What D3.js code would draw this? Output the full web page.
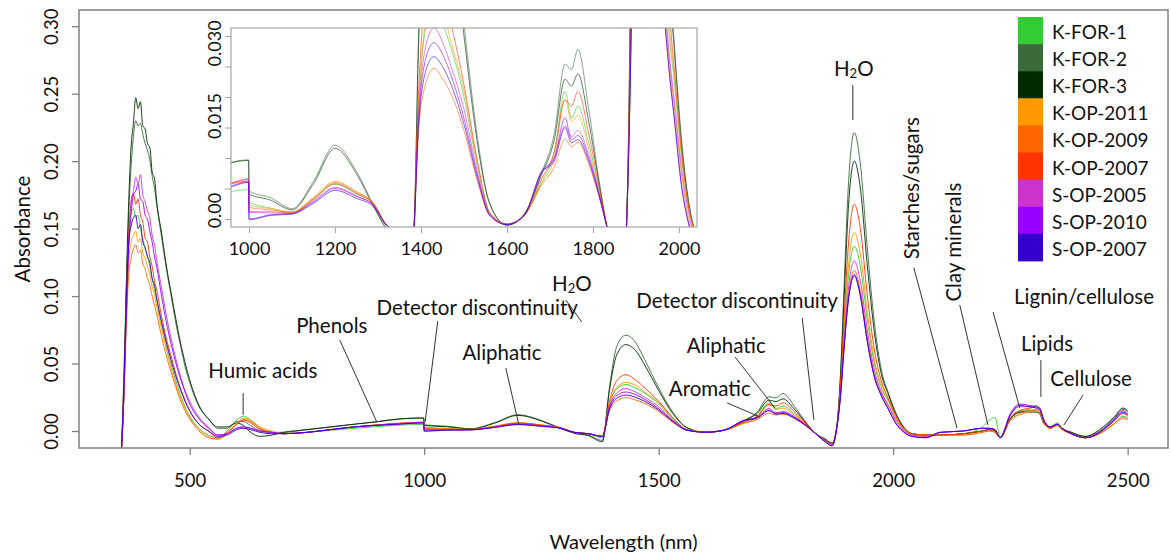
<!DOCTYPE html>
<html>
<head>
<meta charset="utf-8">
<script src="https://cdn.jsdelivr.net/npm/d3@7"></script>
<style>
  html, body { margin: 0; padding: 0; background: #fff; }
  svg { display: block; font-family: Lato, Carlito, "Open Sans", sans-serif; }
</style>
</head>
<body>
<svg id="chart" width="1171" height="554"></svg>
<script>
// Wavelength grid (nm) shared by every spectrum
const wavelengths = [
  350,355,360,365,370,375,380,385,390,395,400,405,410,415,420,425,430,440,450,460,470,480,490,500,520,540,
  560,580,600,615,630,650,675,700,
  750,800,850,900,950,999,
  1000,1050,1100,1150,1200,1250,1290,1320,1350,1380,
  1395,1410,1430,1450,1470,1500,1530,1560,1600,
  1640,1680,1710,1735,1750,1765,1790,1815,1835,
  1855,1870,1880,1888,1895,1905,1917,1930,1945,1960,1975,1990,2005,2020,2040,2070,
  2100,2150,2190,2205,2217,2228,2250,2270,2290,2305,2312,2322,2335,2350,2360,2380,2410,2440,2470,2490,2500
];

const sampleNames = ["K-FOR-1","K-FOR-2","K-FOR-3","K-OP-2011","K-OP-2009","K-OP-2007","S-OP-2005","S-OP-2010","S-OP-2007"];
const sampleColors = ["#33cc33","#3b6b3b","#002b00","#ff9900","#ff6600","#ff3300","#cc33cc","#9900ff","#3300cc"];

const kFor1 = [
  -0.03,-0.008,0.05,0.11,0.15,0.162,0.165,0.158,0.16,0.15,0.143,0.135,0.130,0.122,0.113,0.105,0.096,0.079,0.064,0.050,0.038,0.027,0.018,0.011,0.002,-0.003,
  -0.005,0.0,0.008,0.011,0.008,0.002,-0.001,-0.002,
  -0.001,0.0005,0.002,0.0033,0.0044,0.0048,
  0.0028,0.0018,0.0011,0.0033,0.0057,0.0041,0.0024,-0.001,-0.002,-0.005,
  0.019,0.031,0.0345,0.032,0.028,0.020,0.009,0.001,-0.0008,
  0.0006,0.006,0.011,0.0209,0.0165,0.0185,0.0125,0.0045,-0.002,
  -0.007,-0.01,0.003,0.031,0.070,0.116,0.137,0.122,0.082,0.05,0.032,0.022,0.011,0.003,-0.002,-0.003,
  -0.003,-0.002,0.003,0.008,0.010,-0.004,0.010,0.015,0.016,0.019,0.017,0.006,0.003,0.006,0.002,-0.002,-0.005,-0.002,0.005,0.011,0.010
];
const kFor2 = [
  -0.03,-0.012,0.03,0.10,0.16,0.195,0.218,0.23,0.226,0.228,0.22,0.213,0.208,0.201,0.189,0.180,0.167,0.144,0.121,0.101,0.081,0.064,0.048,0.036,0.018,0.009,
  0.002,0.002,0.007,0.007,0.004,0.0,-0.001,-0.001,
  0.001,0.003,0.005,0.007,0.0091,0.0097,
  0.0046,0.0035,0.0017,0.0062,0.0121,0.0078,0.0022,-0.0015,-0.003,-0.007,
  0.032,0.062,0.071,0.066,0.053,0.032,0.014,0.0025,-0.001,
  0.0008,0.0075,0.014,0.0254,0.0245,0.0278,0.018,0.006,-0.002,
  -0.006,-0.009,0.004,0.045,0.105,0.185,0.221,0.198,0.135,0.08,0.045,0.028,0.014,0.004,-0.002,-0.003,
  -0.003,-0.002,0.0,0.001,0.0,-0.005,0.009,0.014,0.015,0.015,0.014,0.006,0.003,0.005,0.002,-0.001,-0.004,0.0,0.009,0.016,0.014
];
const kFor3 = [
  -0.03,-0.012,0.03,0.11,0.17,0.21,0.228,0.247,0.239,0.244,0.226,0.224,0.213,0.210,0.192,0.187,0.169,0.147,0.123,0.103,0.084,0.066,0.051,0.038,0.019,0.009,
  0.003,0.003,0.006,0.004,-0.001,-0.004,-0.003,-0.001,
  0.001,0.003,0.005,0.0068,0.009,0.0096,
  0.0041,0.0031,0.0015,0.0058,0.0116,0.0074,0.002,-0.0017,-0.0035,-0.008,
  0.030,0.056,0.064,0.060,0.049,0.030,0.013,0.0025,-0.001,
  0.0008,0.0072,0.013,0.0229,0.0218,0.0238,0.016,0.0055,-0.002,
  -0.006,-0.009,0.004,0.042,0.095,0.168,0.200,0.180,0.122,0.073,0.042,0.027,0.013,0.004,-0.002,-0.003,
  -0.003,-0.002,0.0,0.001,0.0,-0.005,0.009,0.014,0.014,0.014,0.013,0.005,0.003,0.005,0.002,-0.001,-0.004,0.001,0.010,0.017,0.015
];
const kOp2011 = [
  -0.03,-0.01,0.035,0.09,0.125,0.14,0.145,0.148,0.14,0.143,0.132,0.128,0.122,0.116,0.107,0.101,0.092,0.076,0.061,0.047,0.035,0.025,0.017,0.010,0.001,-0.004,
  -0.006,-0.002,0.006,0.0095,0.008,0.003,0.0,-0.002,
  -0.001,0.001,0.003,0.0045,0.0058,0.006,
  0.0023,0.0017,0.0012,0.0036,0.0062,0.0045,0.0026,-0.001,-0.002,-0.004,
  0.020,0.032,0.036,0.034,0.029,0.021,0.0095,0.001,-0.0008,
  0.0006,0.0058,0.010,0.0196,0.0160,0.0170,0.0115,0.004,-0.002,
  -0.007,-0.01,0.003,0.033,0.075,0.124,0.147,0.131,0.088,0.053,0.034,0.023,0.011,0.003,-0.002,-0.003,
  -0.003,-0.003,-0.001,0.0,-0.001,-0.005,0.008,0.012,0.014,0.015,0.014,0.005,0.002,0.004,0.001,-0.002,-0.005,-0.002,0.005,0.009,0.008
];
const kOp2009 = [
  -0.03,-0.01,0.03,0.08,0.115,0.128,0.135,0.138,0.132,0.134,0.124,0.12,0.113,0.108,0.100,0.093,0.086,0.070,0.056,0.044,0.033,0.023,0.015,0.009,0.0,-0.005,
  -0.006,-0.002,0.005,0.0085,0.007,0.002,-0.001,-0.002,
  -0.001,0.001,0.003,0.0045,0.0057,0.0062,
  0.0019,0.0015,0.0011,0.0034,0.0060,0.0044,0.0025,-0.001,-0.002,-0.004,
  0.015,0.022,0.0247,0.023,0.0205,0.0145,0.0065,0.0006,-0.0009,
  0.0006,0.0055,0.0085,0.0131,0.0118,0.0126,0.009,0.0035,-0.002,
  -0.007,-0.01,0.003,0.028,0.062,0.101,0.119,0.104,0.069,0.042,0.028,0.018,0.008,0.001,-0.003,-0.004,
  -0.003,-0.003,-0.001,0.0,-0.001,-0.005,0.008,0.013,0.015,0.016,0.015,0.006,0.002,0.004,0.001,-0.002,-0.005,-0.002,0.005,0.010,0.009
];
const kOp2007 = [
  -0.03,-0.01,0.04,0.1,0.145,0.168,0.176,0.168,0.172,0.16,0.155,0.143,0.140,0.129,0.122,0.111,0.104,0.085,0.069,0.056,0.043,0.032,0.023,0.015,0.005,0.0,
  -0.005,-0.001,0.005,0.008,0.006,0.001,-0.001,-0.002,
  -0.001,0.001,0.003,0.0045,0.0057,0.0065,
  0.0012,0.0012,0.001,0.0032,0.0058,0.0042,0.0024,-0.001,-0.002,-0.004,
  0.022,0.037,0.0417,0.038,0.032,0.022,0.010,0.001,-0.0008,
  0.0006,0.0065,0.011,0.0195,0.0185,0.0209,0.014,0.005,-0.002,
  -0.007,-0.01,0.003,0.036,0.082,0.140,0.168,0.150,0.10,0.06,0.037,0.024,0.012,0.003,-0.002,-0.003,
  -0.003,-0.002,0.0,0.001,0.0,-0.005,0.010,0.015,0.017,0.018,0.017,0.007,0.002,0.005,0.002,-0.002,-0.005,-0.001,0.007,0.013,0.012
];
const sOp2005 = [
  -0.03,-0.01,0.03,0.09,0.14,0.17,0.178,0.188,0.183,0.19,0.175,0.17,0.163,0.158,0.145,0.138,0.126,0.106,0.086,0.069,0.054,0.041,0.030,0.022,0.010,0.003,
  -0.003,-0.002,0.002,0.003,0.002,0.0,-0.001,-0.002,
  -0.001,0.001,0.003,0.0045,0.0056,0.0066,
  0.0011,0.001,0.0009,0.003,0.0052,0.0038,0.0022,-0.001,-0.002,-0.004,
  0.018,0.028,0.0313,0.029,0.025,0.018,0.008,0.0008,-0.0008,
  0.0006,0.0075,0.010,0.0153,0.0135,0.0145,0.0105,0.004,-0.002,
  -0.007,-0.01,0.003,0.029,0.065,0.107,0.126,0.111,0.074,0.045,0.029,0.019,0.009,0.002,-0.003,-0.004,
  -0.001,0.0,0.002,0.002,0.001,-0.005,0.012,0.018,0.018,0.018,0.017,0.007,0.003,0.005,0.002,-0.002,-0.005,-0.001,0.007,0.013,0.011
];
const sOp2010 = [
  -0.03,-0.01,0.03,0.085,0.135,0.16,0.175,0.178,0.183,0.172,0.17,0.16,0.157,0.148,0.140,0.129,0.121,0.100,0.081,0.065,0.051,0.039,0.029,0.020,0.009,0.002,
  -0.003,-0.002,0.002,0.003,0.002,0.0,-0.001,-0.002,
  -0.001,0.001,0.003,0.0042,0.0052,0.0062,
  0.0,0.0007,0.0009,0.0028,0.0050,0.0037,0.0022,-0.001,-0.002,-0.004,
  0.017,0.026,0.0289,0.027,0.0235,0.0165,0.0075,0.0006,-0.0009,
  0.0006,0.0078,0.010,0.0166,0.0130,0.0137,0.010,0.0038,-0.002,
  -0.008,-0.011,0.003,0.027,0.060,0.099,0.116,0.101,0.066,0.040,0.026,0.016,0.006,0.0,-0.004,-0.005,
  -0.001,0.0,0.002,0.002,0.001,-0.005,0.013,0.020,0.019,0.018,0.017,0.008,0.003,0.005,0.002,-0.002,-0.005,-0.001,0.008,0.015,0.013
];
const sOp2007 = [
  -0.03,-0.01,0.04,0.1,0.14,0.152,0.158,0.16,0.15,0.153,0.14,0.136,0.129,0.125,0.113,0.108,0.098,0.081,0.066,0.053,0.041,0.031,0.022,0.015,0.005,0.0,
  -0.004,-0.003,0.001,0.002,0.001,-0.001,-0.002,-0.002,
  -0.001,0.001,0.003,0.0042,0.0051,0.006,
  -0.0001,0.0006,0.0008,0.0026,0.0047,0.0034,0.002,-0.001,-0.002,-0.004,
  0.016,0.024,0.0266,0.025,0.022,0.0155,0.007,0.0006,-0.0009,
  0.0006,0.0076,0.0095,0.0150,0.0125,0.0130,0.0095,0.0036,-0.002,
  -0.008,-0.011,0.003,0.027,0.060,0.098,0.115,0.100,0.066,0.040,0.026,0.016,0.006,0.0,-0.004,-0.005,
  -0.001,0.0,0.002,0.002,0.001,-0.005,0.012,0.019,0.018,0.017,0.016,0.007,0.003,0.005,0.002,-0.002,-0.005,-0.001,0.008,0.014,0.012
];

const mainXTicks = [500, 1000, 1500, 2000, 2500];
const mainYTicks = [0, 0.05, 0.10, 0.15, 0.20, 0.25, 0.30];
const insetXTicks = [1000, 1200, 1400, 1600, 1800, 2000];
const insetYTicks = [0, 0.005, 0.010, 0.015, 0.020, 0.025, 0.030];
const insetYLabels = {"0": "0.00", "0.015": "0.015", "0.03": "0.030"};

// Band annotations: label anchor and leader line, in (nm, absorbance)
const bandNotes = [
  {text: "Humic acids",            at: [656, 0.0452],  from: [614, 0.028],   to: [614, 0.012]},
  {text: "Phenols",                at: [803, 0.0786],  from: [820, 0.0674],  to: [899, 0.0067]},
  {text: "Detector discontinuity", at: [1113, 0.0919], from: [1029, 0.0815], to: [1002, 0.0067]},
  {text: "Aliphatic",              at: [1166, 0.0585], from: [1174, 0.0467], to: [1202, 0.0044]},
  {text: "H2O",                    at: [1315, 0.1100], from: [1302, 0.097],  to: [1336, 0.0808]},
  {text: "Detector discontinuity", at: [1667, 0.0971], from: [1806, 0.0837], to: [1831, 0.0082]},
  {text: "Aliphatic",              at: [1644, 0.0637], from: [1663, 0.0548], to: [1748, 0.017]},
  {text: "Aromatic",               at: [1609, 0.0319], from: [1646, 0.0208], to: [1716, 0.0104]},
  {text: "H2O",                    at: [1916, 0.269],  from: [1914, 0.2564], to: [1914, 0.2305]},
  {text: "Starches/sugars",        at: [2038, 0.180],  from: [2044, 0.121],  to: [2136, 0.0022], vertical: true},
  {text: "Clay minerals",          at: [2128, 0.140],  from: [2142, 0.0934], to: [2202, 0.0044], vertical: true},
  {text: "Lignin/cellulose",       at: [2407, 0.100],  from: [2213, 0.0882], to: [2270, 0.017]},
  {text: "Lipids",                 at: [2328, 0.0652], from: [2315, 0.0526], to: [2315, 0.0252]},
  {text: "Cellulose",              at: [2422, 0.0393], from: [2405, 0.0267], to: [2364, 0.0044]}
];

const spectra = [kFor1, kFor2, kFor3, kOp2011, kOp2009, kOp2007, sOp2005, sOp2010, sOp2007]
  .map((vals, i) => ({
    name: sampleNames[i],
    color: sampleColors[i],
    points: wavelengths.map((w, j) => ({w, a: vals[j]}))
  }));

const svg = d3.select("#chart");
const axisColor = "#808080";
const textColor = "#111";

// ---------- main panel ----------
const box = {left: 79, right: 1168, top: 10, bottom: 448};
const x = d3.scaleLinear().domain([264, 2586]).range([box.left, box.right]);
const y = d3.scaleLinear().domain([-0.0126, 0.312]).range([box.bottom, box.top]);

svg.append("clipPath").attr("id", "mainClip")
  .append("rect").attr("x", box.left).attr("y", box.top)
  .attr("width", box.right - box.left).attr("height", box.bottom - box.top);

const mainLine = d3.line().x(d => x(d.w)).y(d => y(d.a)).curve(d3.curveMonotoneX);

svg.append("g").attr("clip-path", "url(#mainClip)")
  .selectAll("path").data(spectra).join("path")
  .attr("d", d => mainLine(d.points))
  .attr("fill", "none")
  .attr("stroke", d => d.color)
  .attr("stroke-width", 1)
  .attr("stroke-opacity", 0.9);

svg.append("rect")
  .attr("x", box.left).attr("y", box.top)
  .attr("width", box.right - box.left).attr("height", box.bottom - box.top)
  .attr("fill", "none").attr("stroke", axisColor).attr("stroke-width", 1.5);

const xAxis = svg.append("g").attr("transform", `translate(0,${box.bottom})`)
  .call(d3.axisBottom(x).tickValues(mainXTicks).tickFormat(d3.format("d"))
    .tickSize(7).tickSizeOuter(0).tickPadding(19));
xAxis.select(".domain").remove();
xAxis.selectAll("line").attr("stroke", axisColor).attr("stroke-width", 1.3);
xAxis.selectAll("text").attr("font-size", 18.5).attr("fill", textColor)
  .attr("font-family", "Lato, Carlito, sans-serif");

const yAxis = svg.append("g").attr("transform", `translate(${box.left},0)`)
  .call(d3.axisLeft(y).tickValues(mainYTicks).tickFormat(d3.format(".2f"))
    .tickSize(7).tickSizeOuter(0));
yAxis.select(".domain").remove();
yAxis.selectAll("line").attr("stroke", axisColor).attr("stroke-width", 1.3);
yAxis.selectAll("text")
  .attr("x", null).attr("dy", null)
  .attr("transform", "translate(-28,0) rotate(-90)")
  .attr("text-anchor", "middle").attr("dominant-baseline", "central")
  .attr("font-size", 18.5).attr("fill", textColor)
  .attr("font-family", "Lato, Carlito, sans-serif");

svg.append("text")
  .attr("transform", `translate(22,${(box.top + box.bottom) / 2}) rotate(-90)`)
  .attr("text-anchor", "middle").attr("dominant-baseline", "central")
  .attr("font-size", 20.5).attr("fill", textColor)
  .text("Absorbance");

svg.append("text")
  .attr("x", (box.left + box.right) / 2).attr("y", 541)
  .attr("text-anchor", "middle").attr("dominant-baseline", "central")
  .attr("font-size", 20).attr("fill", textColor)
  .text("Wavelength (nm)");

// ---------- band annotations ----------
const notes = svg.append("g");
bandNotes.forEach(n => {
  notes.append("line")
    .attr("x1", x(n.from[0])).attr("y1", y(n.from[1]))
    .attr("x2", x(n.to[0])).attr("y2", y(n.to[1]))
    .attr("stroke", "#333").attr("stroke-width", 1);
  const t = notes.append("text")
    .attr("font-size", 20.5).attr("fill", textColor)
    .attr("text-anchor", "middle").attr("dominant-baseline", "central");
  if (n.vertical) {
    t.attr("transform", `translate(${x(n.at[0])},${y(n.at[1])}) rotate(-90)`);
  } else {
    t.attr("x", x(n.at[0])).attr("y", y(n.at[1]));
  }
  if (n.text === "H2O") {
    t.append("tspan").text("H");
    t.append("tspan").attr("font-size", 13).attr("dy", 5).text("2");
    t.append("tspan").attr("dy", -5).text("O");
  } else {
    t.text(n.text);
  }
});

// ---------- legend ----------
const legend = svg.append("g");
const rowH = 27.1, legTop = 17;
spectra.forEach((s, i) => {
  legend.append("rect")
    .attr("x", 1018).attr("y", legTop + i * rowH)
    .attr("width", 25).attr("height", rowH + 0.5)
    .attr("fill", s.color);
  legend.append("text")
    .attr("x", 1052).attr("y", legTop + i * rowH + rowH / 2 + 1)
    .attr("dominant-baseline", "central")
    .attr("font-size", 19).attr("fill", textColor)
    .text(s.name);
});

// ---------- inset: 1000-2000 nm at low absorbance ----------
const ibox = {left: 231, right: 697, top: 28, bottom: 227};
const xi = d3.scaleLinear().domain([958, 2042]).range([ibox.left, ibox.right]);
const yi = d3.scaleLinear().domain([-0.0013, 0.0313]).range([ibox.bottom, ibox.top]);

svg.append("rect")
  .attr("x", ibox.left).attr("y", ibox.top)
  .attr("width", ibox.right - ibox.left).attr("height", ibox.bottom - ibox.top)
  .attr("fill", "#fff");

svg.append("clipPath").attr("id", "insetClip")
  .append("rect").attr("x", ibox.left).attr("y", ibox.top)
  .attr("width", ibox.right - ibox.left).attr("height", ibox.bottom - ibox.top);

const insetLine = d3.line().x(d => xi(d.w)).y(d => yi(d.a)).curve(d3.curveMonotoneX);
svg.append("g").attr("clip-path", "url(#insetClip)")
  .selectAll("path").data(spectra).join("path")
  .attr("d", d => insetLine(d.points.filter(p => p.w >= 900 && p.w <= 2100)))
  .attr("fill", "none")
  .attr("stroke", d => d.color)
  .attr("stroke-width", 1)
  .attr("stroke-opacity", 0.6);

svg.append("rect")
  .attr("x", ibox.left).attr("y", ibox.top)
  .attr("width", ibox.right - ibox.left).attr("height", ibox.bottom - ibox.top)
  .attr("fill", "none").attr("stroke", "#a6a6a6").attr("stroke-width", 1.2);

const ixAxis = svg.append("g").attr("transform", `translate(0,${ibox.bottom})`)
  .call(d3.axisBottom(xi).tickValues(insetXTicks).tickFormat(d3.format("d"))
    .tickSize(6).tickSizeOuter(0).tickPadding(9));
ixAxis.select(".domain").remove();
ixAxis.selectAll("line").attr("stroke", "#a6a6a6");
ixAxis.selectAll("text").attr("font-size", 18).attr("fill", textColor)
  .attr("font-family", "Lato, Carlito, sans-serif");

// label nudges keep the rotated labels inside the inset's height
const insetNudge = {"0": -9, "0.015": -12, "0.03": 7};
const iyAxis = svg.append("g").attr("transform", `translate(${ibox.left},0)`)
  .call(d3.axisLeft(yi).tickValues(insetYTicks)
    .tickFormat(d => insetYLabels[String(+d.toFixed(3))] || "")
    .tickSize(6).tickSizeOuter(0));
iyAxis.select(".domain").remove();
iyAxis.selectAll("line").attr("stroke", "#a6a6a6");
iyAxis.selectAll("text")
  .attr("x", null).attr("dy", null)
  .attr("transform", d => `translate(-17,${insetNudge[String(+d.toFixed(3))] || 0}) rotate(-90)`)
  .attr("text-anchor", "middle").attr("dominant-baseline", "central")
  .attr("font-size", 18).attr("fill", textColor)
  .attr("font-family", "Lato, Carlito, sans-serif");
</script>
</body>
</html>
